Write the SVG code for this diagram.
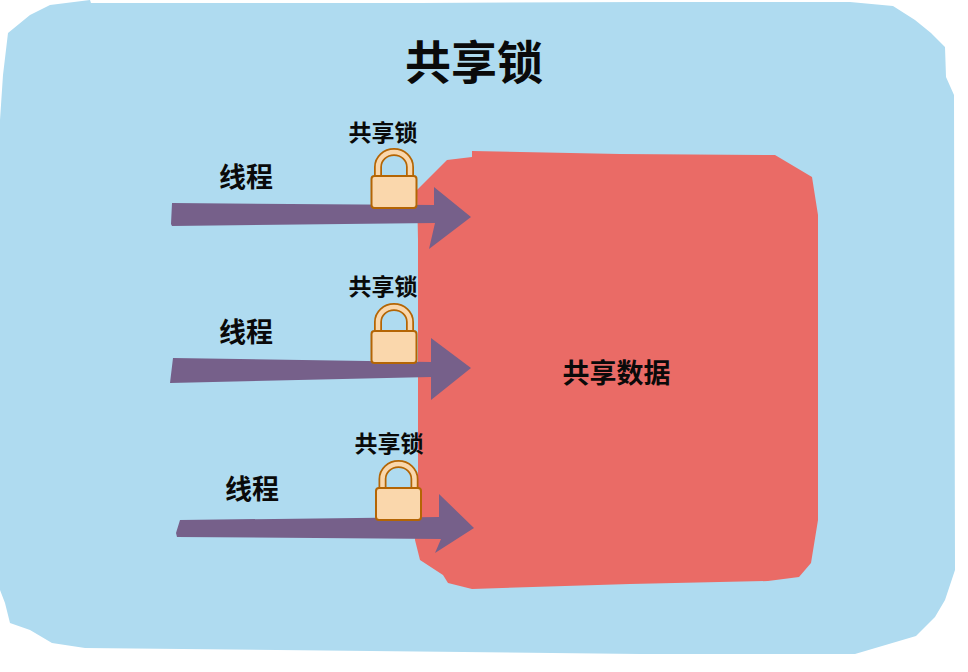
<svg xmlns="http://www.w3.org/2000/svg" width="968" height="672" viewBox="0 0 968 672">
<defs>
<style>
text{font-family:"Noto Sans CJK SC","Noto Sans CJK JP",sans-serif;font-weight:700;fill:#0a0a0a;text-anchor:middle}
.title{font-size:46px}.d{font-size:27px}.t{font-size:27px}.l{font-size:23px}
.a{fill:#76608a}
.b{fill:#fad7ac;stroke:#b46504;stroke-width:2}
.s{fill:none;stroke:#b46504;stroke-width:8}
.si{fill:none;stroke:#fad7ac;stroke-width:4.500}
</style>
<g id="lock">
<path class="s" d="M-16 5V-8A16 15 0 0 1 16-8V5"/>
<path class="si" d="M-16 5V-8A16 15 0 0 1 16-8V5"/>
<rect class="b" x="-22.500" y="1" width="45" height="32" rx="3"/>
</g>
</defs>
<g id="background"><path fill="#afdbf0" d="M0 120 L3 75 L8 33 L30 15 L50 5 L90 0 L91 3 L420 3 L650 2 L850 2 L893 6 L915 20 L931 33 L945 47 L946 77 L954 95 L955 570 L945 600 L935 617 L916 636 L855 654 L640 654 L85 648 L52 643 L30 630 L10 623 L5 603 L0 590 Z"/></g>
<g id="shared-data"><path fill="#ea6b66" d="M418 240 L417 190 L447 160 L472 157 L472 151 L620 154 L775 155 L812 177 L818 215 L818 520 L811 563 L799 577 L768 581 L630 584 L472 589 L448 583 L443 575 L420 560 L415 540 L418 480 Z"/>
<text class="d" x="616.500" y="383">共享数据</text></g>
<text class="title" x="474" y="79">共享锁</text>
<g id="connectors">
<path class="a" d="M172 203 L434 205 L434 187 L471 217 L429 249 L435 223 L172 226 L171 224 Z"/>
<path class="a" d="M173 358 L431 362 L431 338 L471 368 L431 400 L431 377 L170 383 Z"/>
<path class="a" d="M180 520 L439 517 L439 494 L474 528 L435 553 L441 539 L177 537 L176 533 Z"/>
</g>
<g id="thread-1"><text class="t" x="246" y="187">线程</text></g>
<g id="thread-2"><text class="t" x="246" y="342">线程</text></g>
<g id="thread-3"><text class="t" x="252" y="499">线程</text></g>
<g id="lock-1"><text class="l" x="383" y="141">共享锁</text><use href="#lock" x="394" y="175"/></g>
<g id="lock-2"><text class="l" x="383" y="295">共享锁</text><use href="#lock" x="394" y="330"/></g>
<g id="lock-3"><text class="l" x="389" y="452">共享锁</text><use href="#lock" x="398.500" y="487"/></g>
</svg>
